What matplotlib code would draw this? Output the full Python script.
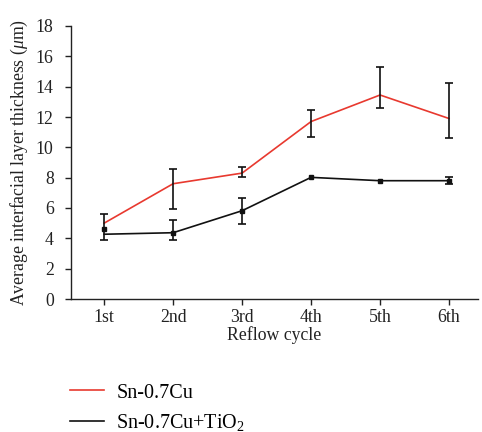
import numpy as np
import matplotlib
matplotlib.use("Agg")
import matplotlib.pyplot as plt
from matplotlib.lines import Line2D

plt.rcParams['font.family'] = ['Liberation Serif', 'DejaVu Serif']
plt.rcParams['mathtext.fontset'] = 'custom'
plt.rcParams['mathtext.rm'] = 'Liberation Serif'
plt.rcParams['mathtext.it'] = 'Liberation Serif:italic'

cycles = ['1st', '2nd', '3rd', '4th', '5th', '6th']
red_vals = [5.0, 7.6, 8.3, 11.7, 13.45, 11.9]
red_upper = [5.6, 8.55, 8.72, 12.48, 15.27, 14.22]
red_lower = [3.9, 5.91, 8.06, 10.7, 12.57, 10.63]
black_line = [4.27, 4.37, 5.82, 8.02, 7.8, 7.8]
black_marks = [4.63, 4.37, 5.82, 8.02, 7.8, 7.8]
black_upper = [np.nan, 5.19, 6.64, np.nan, np.nan, 8.06]
black_lower = [np.nan, 3.89, 4.94, np.nan, np.nan, 7.58]
yticks = [0, 2, 4, 6, 8, 10, 12, 14, 16, 18]

W, H = 482, 432
FS = 12.8
fig = plt.figure(figsize=(W / 100, H / 100), dpi=100)
ax = fig.add_axes([71 / W, (H - 299) / H, (478 - 71) / W, (299 - 26) / H])

x = np.arange(len(cycles))
red_c = '#e8392f'
blk = '#111111'

ax.plot(x, red_vals, color=red_c, lw=1.2, zorder=3)
rv = np.array(red_vals)
ax.errorbar(x, rv, yerr=[rv - np.array(red_lower), np.array(red_upper) - rv],
            fmt='none', ecolor=blk, elinewidth=1.2, capsize=3.2, capthick=1.2, zorder=4)

ax.plot(x, black_line, color=blk, lw=1.2, zorder=3)
ax.plot(x, black_marks, ls='none', marker='s', ms=3.2, color=blk, zorder=5)
bm = np.array(black_marks)
bu = np.array(black_upper)
bl = np.array(black_lower)
mask = ~np.isnan(bu)
ax.errorbar(x[mask], bm[mask], yerr=[bm[mask] - bl[mask], bu[mask] - bm[mask]],
            fmt='none', ecolor=blk, elinewidth=1.2, capsize=3.2, capthick=1.2, zorder=4)

ax.set_xlim(-0.48, 5.42)
ax.set_ylim(0, 18)
ax.set_yticks(yticks)
ax.set_xticks(x)
ax.set_xticklabels(cycles)
for s in ['top', 'right']:
    ax.spines[s].set_visible(False)
for s in ['left', 'bottom']:
    ax.spines[s].set_linewidth(1.0)
    ax.spines[s].set_color('#222222')
ax.tick_params(direction='out', length=4.5, width=1.0, colors='#222222', labelsize=FS,
               labelcolor='#222222')
ax.tick_params(axis='x', pad=3)
ax.tick_params(axis='y', pad=8)

ax.set_xlabel('Reflow cycle', fontsize=FS, color='#222222', labelpad=0)
ax.set_ylabel(r'Average interfacial layer thickness ($\mu$m)', fontsize=FS, color='#222222', labelpad=4)

handles = [Line2D([], [], color=red_c, lw=1.2), Line2D([], [], color=blk, lw=1.2)]
labels = ['Sn-0.7Cu', r'Sn-0.7Cu+TiO$_2$']
fig.legend(handles, labels, loc='center left', bbox_to_anchor=(62 / W, (H - 408) / H),
           frameon=False, fontsize=14.5, handlelength=1.7, handletextpad=0.6,
           labelspacing=0.45, borderaxespad=0)

fig.savefig('out.png', dpi=100)
